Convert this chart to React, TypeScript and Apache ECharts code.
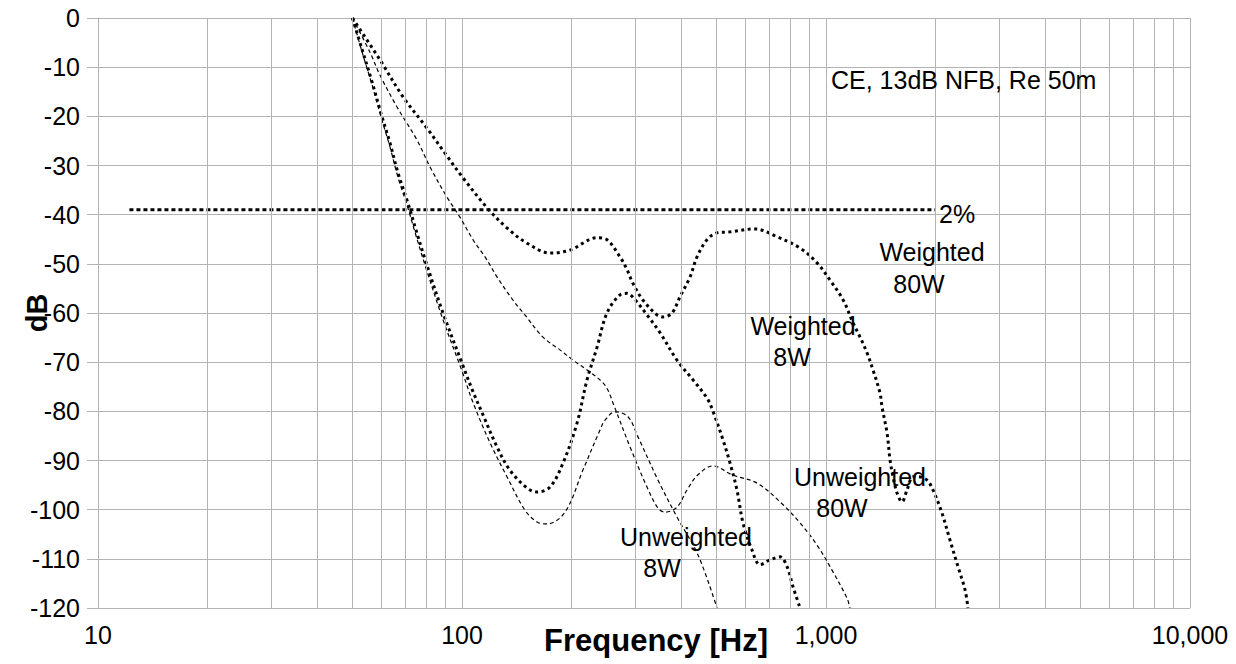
import React, { useEffect, useRef } from "react";
import * as echarts from "echarts";

type Pt = [number, number];

// Frequency axis (Hz, log scale) and level axis (dB)
const freqMin = 10;
const freqMax = 10000;
const freqTicks = [10, 100, 1000, 10000];
const freqTickLabels = ["10", "100", "1,000", "10,000"];
const dbMin = -120;
const dbMax = 0;
const dbStep = 10;

// Minor vertical grid lines: 2..9 of every decade
const minorGridFreqs = [
  20, 30, 40, 50, 60, 70, 80, 90,
  200, 300, 400, 500, 600, 700, 800, 900,
  2000, 3000, 4000, 5000, 6000, 7000, 8000, 9000,
];

// Distortion spectra [frequency Hz, level dB]
const weighted80W: Pt[] = [
  [50, 0], [59.5, -8.5], [68.8, -16], [80.1, -22.4], [89.8, -27.5], [100.6, -32.5],
  [117.2, -38.6], [132.9, -42.7], [150.9, -45.8], [174.5, -47.8], [198.1, -47.2],
  [234.9, -44.7], [250.2, -45.1], [271.8, -48.6], [284.1, -51.2], [295, -54],
  [314.3, -57.4], [343.4, -60.4], [356.7, -60.8], [377.5, -60], [397.1, -56.7],
  [423, -52.7], [442.2, -48.6], [471, -45.1], [501.8, -43.7], [544.8, -43.5],
  [638.2, -42.9], [733.6, -44.5], [848.6, -46.8], [944.8, -49.8], [1025.6, -53.3],
  [1113.6, -57.3], [1186.5, -62], [1240.2, -64.9], [1296.3, -68.1], [1346.5, -71.6],
  [1407.6, -76.3], [1425.3, -79.1], [1471.3, -84.4], [1499.5, -89.9], [1528.2, -93.3],
  [1567.3, -96.6], [1617.7, -98.4], [1669.5, -96], [1733.9, -93.3], [1789.6, -93.3],
  [1894.5, -94], [1967.9, -96], [2083, -100.7], [2191, -106.2], [2305, -111.6],
  [2410, -116.3], [2455, -120],
];

const weighted8W: Pt[] = [
  [50, 0], [53.1, -6.3], [56.6, -13], [60.3, -20.1], [63.4, -25.4], [66.7, -31.5],
  [71, -37.6], [74.3, -42.5], [79.1, -49], [88.7, -60], [100, -70.2], [107.2, -76],
  [114.2, -80.7], [124.9, -87.3], [135.5, -92], [150.9, -95.6], [160.7, -96.4],
  [174.5, -95.4], [189.5, -90.5], [207, -82.4], [220.5, -73.6], [234.9, -67],
  [250.2, -60], [271.8, -56.3], [284.1, -56], [295, -56.8], [322.3, -60.4],
  [349.9, -64], [389.6, -69.6], [431.1, -73.6], [471, -77.3], [489.3, -80],
  [521.2, -85.8], [544.8, -90.5], [569.4, -96], [591.6, -102.7], [626.2, -108.2],
  [658.7, -111.2], [702, -110.2], [747.7, -109.6], [781.6, -111.6], [811.9, -115.7],
  [848.6, -120],
];

const unweighted80W: Pt[] = [
  [50, 0], [55.9, -7], [59.5, -11.6], [66.3, -18.1], [75.2, -24.8], [81.7, -30.3],
  [90.9, -36.4], [98.7, -40.5], [107.2, -45.1], [115.7, -48.6], [124.9, -52.7],
  [138.1, -57.4], [148.9, -60.4], [166.9, -64.9], [185.8, -67.5], [201.8, -69.6],
  [224.7, -72], [244, -74.2], [251.8, -75.7], [259.9, -78.3], [289.4, -87.2],
  [322.3, -95.4], [345.6, -99.7], [361.2, -100.5], [389.6, -99.5], [415.1, -96],
  [445, -92.9], [489.3, -91.1], [551.8, -92.9], [646.4, -94.6], [747.7, -98.4],
  [848.6, -102.7], [944.8, -107.2], [1038.7, -112.3], [1142.1, -118], [1164, -120],
];

const unweighted8W: Pt[] = [
  [50, 0], [53.1, -6.8], [56.6, -13.6], [60.3, -20.8], [63.4, -26.2], [66.7, -32.4],
  [71, -38.6], [74.3, -43.6], [79.1, -50.2], [88.7, -61.4], [100, -71.8],
  [107.2, -78.2], [119.4, -86.4], [132.9, -93.3], [148.9, -100.1], [160.7, -102.5],
  [171.2, -102.9], [191.9, -100.5], [215, -91.9], [239.4, -83.8], [247.1, -81.8],
  [263.3, -80.1], [285.8, -81.1], [304.5, -85.2], [345.6, -94], [389.6, -101.5],
  [445, -109.2], [501.8, -120],
];

// 2% reference level
const refLevel: Pt[] = [
  [12.2, -39],
  [2000, -39],
];

const FONT = '"Liberation Sans", Arial, Helvetica, sans-serif';
const GRID_COLOR = "#b3b3b3";

// Annotation layout (pixel placement of the chart's text notes)
const notes: { text: string; x: number; y: number; align: "left" | "center" }[] = [
  { text: "CE, 13dB NFB, Re 50m", x: 831, y: 80, align: "left" },
  { text: "2%", x: 939, y: 214, align: "left" },
  { text: "Weighted", x: 932, y: 252, align: "center" },
  { text: "80W", x: 919, y: 284, align: "center" },
  { text: "Weighted", x: 803, y: 326, align: "center" },
  { text: "8W", x: 792, y: 357, align: "center" },
  { text: "Unweighted", x: 860, y: 477, align: "center" },
  { text: "80W", x: 842, y: 508, align: "center" },
  { text: "Unweighted", x: 686, y: 537, align: "center" },
  { text: "8W", x: 662, y: 568, align: "center" },
];

function curve(name: string, data: Pt[], thick: boolean) {
  return {
    type: "line",
    name,
    data,
    showSymbol: false,
    symbol: "none",
    smooth: 0.35,
    silent: true,
    z: thick ? 4 : 3,
    lineStyle: {
      color: "#000000",
      width: thick ? 3 : 1.2,
      type: thick ? [3, 3.5] : [4, 3],
      cap: "butt",
    },
  };
}

export default function App() {
  const ref = useRef<HTMLDivElement>(null);

  useEffect(() => {
    if (!ref.current) return;
    const chart = echarts.init(ref.current, undefined, { renderer: "svg" });

    const option: any = {
      animation: false,
      backgroundColor: "#ffffff",
      grid: {
        left: 98,
        right: 46,
        top: 18,
        bottom: 56,
        containLabel: false,
        outerBoundsMode: "none",
      },
      xAxis: {
        type: "log",
        logBase: 10,
        min: freqMin,
        max: freqMax,
        splitNumber: 3,
        axisLine: { show: true, lineStyle: { color: GRID_COLOR, width: 1 } },
        axisTick: { show: true, inside: false, length: 11, lineStyle: { color: GRID_COLOR } },
        axisLabel: {
          color: "#000000",
          fontFamily: FONT,
          fontSize: 25,
          margin: 14,
          formatter: (v: number) => {
            const i = freqTicks.indexOf(Math.round(v));
            return i >= 0 ? freqTickLabels[i] : "";
          },
        },
        splitLine: { show: true, lineStyle: { color: GRID_COLOR, width: 1 } },
        minorTick: { show: false },
        minorSplitLine: { show: false },
      },
      yAxis: {
        type: "value",
        min: dbMin,
        max: dbMax,
        interval: dbStep,
        axisLine: { show: true, lineStyle: { color: GRID_COLOR, width: 1 } },
        axisTick: { show: true, inside: false, length: 11, lineStyle: { color: GRID_COLOR } },
        axisLabel: {
          color: "#000000",
          fontFamily: FONT,
          fontSize: 25,
          margin: 18,
        },
        splitLine: { show: true, lineStyle: { color: GRID_COLOR, width: 1 } },
      },
      series: [
        {
          type: "line",
          name: "minor-grid",
          data: [],
          silent: true,
          z: 1,
          markLine: {
            silent: true,
            symbol: ["none", "none"],
            animation: false,
            label: { show: false },
            lineStyle: { color: GRID_COLOR, width: 1, type: "solid" },
            data: minorGridFreqs.map((f) => ({ xAxis: f })),
          },
        },
        curve("Weighted 80W", weighted80W, true),
        curve("Weighted 8W", weighted8W, true),
        curve("Unweighted 80W", unweighted80W, false),
        curve("Unweighted 8W", unweighted8W, false),
        {
          type: "line",
          name: "2%",
          data: refLevel,
          showSymbol: false,
          symbol: "none",
          silent: true,
          z: 4,
          lineStyle: { color: "#000000", width: 3, type: [4, 3], cap: "butt" },
        },
      ],
      graphic: [
        ...notes.map((n) => ({
          type: "text",
          x: n.x,
          y: n.y,
          silent: true,
          z: 10,
          style: {
            text: n.text,
            fill: "#000000",
            font: `25px ${FONT}`,
            textAlign: n.align,
            textVerticalAlign: "middle",
          },
        })),
        {
          type: "text",
          x: 656,
          y: 640,
          silent: true,
          style: {
            text: "Frequency [Hz]",
            fill: "#000000",
            font: `bold 31px ${FONT}`,
            textAlign: "center",
            textVerticalAlign: "middle",
          },
        },
        {
          type: "text",
          x: 37,
          y: 313,
          rotation: Math.PI / 2,
          silent: true,
          style: {
            text: "dB",
            fill: "#000000",
            font: `bold 29px ${FONT}`,
            textAlign: "center",
            textVerticalAlign: "middle",
          },
        },
      ],
    };

    chart.setOption(option);
    return () => chart.dispose();
  }, []);

  return (
    <div
      ref={ref}
      style={{ position: "fixed", left: 0, top: 0, width: 1236, height: 664, background: "#fff" }}
    />
  );
}
